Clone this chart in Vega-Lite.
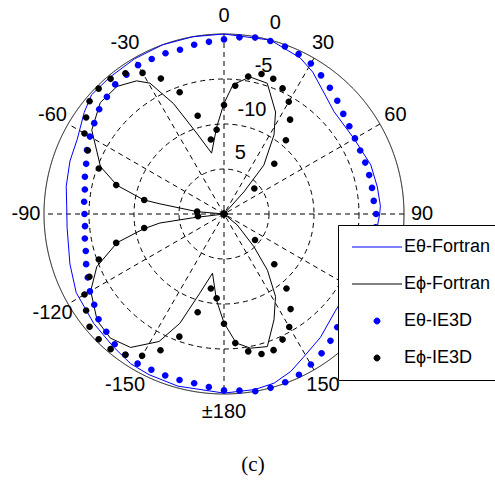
{
  "$schema": "https://vega.github.io/schema/vega-lite/v6.json",
  "width": 360,
  "height": 360,
  "autosize": {"type": "none"},
  "padding": {"left": 44, "top": 34, "right": 91, "bottom": 90},
  "background": "white",
  "config": {"view": {"stroke": null}, "text": {"font": "Liberation Sans"}},
  "title": {"text": "(c)", "orient": "bottom", "frame": "group", "offset": 32, "dx": 29, "font": "Liberation Serif", "fontSize": 21, "fontWeight": "normal", "color": "black"},
  "datasets": {
    "spokes": [{"a": 0}, {"a": 30}, {"a": 60}, {"a": 90}, {"a": 120}, {"a": 150}],
    "rings": [{"ring": 5, "kind": "grid"}, {"ring": 10, "kind": "grid"}, {"ring": 15, "kind": "grid"}, {"ring": 20, "kind": "outer"}],
    "alabels": [
      {"a": 0, "label": "0"}, {"a": 30, "label": "30"}, {"a": 60, "label": "60"}, {"a": 90, "label": "90"},
      {"a": 120, "label": "120"}, {"a": 150, "label": "150"}, {"a": 180, "label": "±180"}, {"a": -150, "label": "-150"},
      {"a": -120, "label": "-120"}, {"a": -90, "label": "-90"}, {"a": -60, "label": "-60"}, {"a": -30, "label": "-30"}
    ],
    "rlabels": [{"ring": 5, "label": "5"}, {"ring": 10, "label": "-10"}, {"ring": 15, "label": "-5"}, {"ring": 20, "label": "0"}],
    "fortran": [
      {"s": "Eθ-Fortran", "a": -180, "db": -0.1}, {"s": "Eθ-Fortran", "a": -165, "db": -0.2}, {"s": "Eθ-Fortran", "a": -155, "db": -0.3},
      {"s": "Eθ-Fortran", "a": -148, "db": -0.4}, {"s": "Eθ-Fortran", "a": -140, "db": -0.8}, {"s": "Eθ-Fortran", "a": -130, "db": -1.1},
      {"s": "Eθ-Fortran", "a": -118, "db": -1.4}, {"s": "Eθ-Fortran", "a": -108, "db": -2.0}, {"s": "Eθ-Fortran", "a": -95, "db": -2.5},
      {"s": "Eθ-Fortran", "a": -87, "db": -2.5}, {"s": "Eθ-Fortran", "a": -80, "db": -2.2}, {"s": "Eθ-Fortran", "a": -71, "db": -1.9},
      {"s": "Eθ-Fortran", "a": -63, "db": -1.7}, {"s": "Eθ-Fortran", "a": -54, "db": -0.8}, {"s": "Eθ-Fortran", "a": -48, "db": -0.2},
      {"s": "Eθ-Fortran", "a": -40, "db": -0.2}, {"s": "Eθ-Fortran", "a": -30, "db": -0.1}, {"s": "Eθ-Fortran", "a": -20, "db": 0},
      {"s": "Eθ-Fortran", "a": -10, "db": 0}, {"s": "Eθ-Fortran", "a": 0, "db": 0}, {"s": "Eθ-Fortran", "a": 15, "db": 0},
      {"s": "Eθ-Fortran", "a": 26, "db": -0.7}, {"s": "Eθ-Fortran", "a": 32, "db": -1.4}, {"s": "Eθ-Fortran", "a": 40, "db": -2.6},
      {"s": "Eθ-Fortran", "a": 47, "db": -3.3}, {"s": "Eθ-Fortran", "a": 60, "db": -3.3}, {"s": "Eθ-Fortran", "a": 71.5, "db": -2.8},
      {"s": "Eθ-Fortran", "a": 80, "db": -2.7}, {"s": "Eθ-Fortran", "a": 87, "db": -2.6}, {"s": "Eθ-Fortran", "a": 90, "db": -2.7},
      {"s": "Eθ-Fortran", "a": 100, "db": -3.0}, {"s": "Eθ-Fortran", "a": 110, "db": -3.4}, {"s": "Eθ-Fortran", "a": 120, "db": -3.8},
      {"s": "Eθ-Fortran", "a": 131, "db": -3.6}, {"s": "Eθ-Fortran", "a": 142, "db": -2.6}, {"s": "Eθ-Fortran", "a": 151, "db": -1.8},
      {"s": "Eθ-Fortran", "a": 157, "db": -1.0}, {"s": "Eθ-Fortran", "a": 163.5, "db": -0.4}, {"s": "Eθ-Fortran", "a": 170, "db": -0.2},
      {"s": "Eθ-Fortran", "a": 180, "db": -0.1},
      {"s": "Eϕ-Fortran", "a": -180, "db": -7.9}, {"s": "Eϕ-Fortran", "a": -175, "db": -10.4}, {"s": "Eϕ-Fortran", "a": -169, "db": -13.3},
      {"s": "Eϕ-Fortran", "a": -163, "db": -10.8}, {"s": "Eϕ-Fortran", "a": -158, "db": -6.9}, {"s": "Eϕ-Fortran", "a": -153, "db": -4.1},
      {"s": "Eϕ-Fortran", "a": -145, "db": -1.9}, {"s": "Eϕ-Fortran", "a": -137.5, "db": -1.3}, {"s": "Eϕ-Fortran", "a": -130, "db": -1.6},
      {"s": "Eϕ-Fortran", "a": -120, "db": -2.9}, {"s": "Eϕ-Fortran", "a": -112.5, "db": -4.7}, {"s": "Eϕ-Fortran", "a": -105, "db": -7.7},
      {"s": "Eϕ-Fortran", "a": -100.5, "db": -10.9}, {"s": "Eϕ-Fortran", "a": -98, "db": -12.8}, {"s": "Eϕ-Fortran", "a": -97, "db": -16.5},
      {"s": "Eϕ-Fortran", "a": -96, "db": -20}, {"s": "Eϕ-Fortran", "a": -86, "db": -20}, {"s": "Eϕ-Fortran", "a": -85, "db": -17},
      {"s": "Eϕ-Fortran", "a": -81, "db": -12.8}, {"s": "Eϕ-Fortran", "a": -80, "db": -10.9}, {"s": "Eϕ-Fortran", "a": -75, "db": -7.7},
      {"s": "Eϕ-Fortran", "a": -69, "db": -5.3}, {"s": "Eϕ-Fortran", "a": -57.6, "db": -2.6}, {"s": "Eϕ-Fortran", "a": -48, "db": -1.5},
      {"s": "Eϕ-Fortran", "a": -40, "db": -1.5}, {"s": "Eϕ-Fortran", "a": -33.3, "db": -2.3}, {"s": "Eϕ-Fortran", "a": -29.5, "db": -3.3},
      {"s": "Eϕ-Fortran", "a": -24.6, "db": -6.5}, {"s": "Eϕ-Fortran", "a": -18.7, "db": -10.5}, {"s": "Eϕ-Fortran", "a": -11.5, "db": -13.1},
      {"s": "Eϕ-Fortran", "a": -4.8, "db": -10.3}, {"s": "Eϕ-Fortran", "a": 0, "db": -7.7}, {"s": "Eϕ-Fortran", "a": 4, "db": -5.6},
      {"s": "Eϕ-Fortran", "a": 10.7, "db": -4.5}, {"s": "Eϕ-Fortran", "a": 18.3, "db": -4.7}, {"s": "Eϕ-Fortran", "a": 26.8, "db": -7.3},
      {"s": "Eϕ-Fortran", "a": 32.3, "db": -9.6}, {"s": "Eϕ-Fortran", "a": 39.2, "db": -13.0}, {"s": "Eϕ-Fortran", "a": 42, "db": -16.7},
      {"s": "Eϕ-Fortran", "a": 44, "db": -20}, {"s": "Eϕ-Fortran", "a": 127, "db": -20}, {"s": "Eϕ-Fortran", "a": 129.6, "db": -18.1},
      {"s": "Eϕ-Fortran", "a": 137.5, "db": -15.1}, {"s": "Eϕ-Fortran", "a": 142.3, "db": -12.1}, {"s": "Eϕ-Fortran", "a": 148, "db": -9.2},
      {"s": "Eϕ-Fortran", "a": 154.7, "db": -7.0}, {"s": "Eϕ-Fortran", "a": 161.9, "db": -4.5}, {"s": "Eϕ-Fortran", "a": 168.8, "db": -4.8},
      {"s": "Eϕ-Fortran", "a": 174.6, "db": -5.6}, {"s": "Eϕ-Fortran", "a": 180, "db": -7.9}
    ],
    "ie3d": [
      {"s": "Eθ-IE3D", "a": -175, "db": -0.7}, {"s": "Eθ-IE3D", "a": -170, "db": -0.9}, {"s": "Eθ-IE3D", "a": -165, "db": -0.9},
      {"s": "Eθ-IE3D", "a": -160, "db": -0.9}, {"s": "Eθ-IE3D", "a": -155, "db": -0.9}, {"s": "Eθ-IE3D", "a": -150, "db": -0.8},
      {"s": "Eθ-IE3D", "a": -145, "db": -0.9}, {"s": "Eθ-IE3D", "a": -140, "db": -1.1}, {"s": "Eθ-IE3D", "a": -135, "db": -1.5},
      {"s": "Eθ-IE3D", "a": -130, "db": -1.8}, {"s": "Eθ-IE3D", "a": -125, "db": -2.4}, {"s": "Eθ-IE3D", "a": -120, "db": -2.8},
      {"s": "Eθ-IE3D", "a": -115, "db": -3.3}, {"s": "Eθ-IE3D", "a": -110, "db": -3.7}, {"s": "Eθ-IE3D", "a": -105, "db": -4.1},
      {"s": "Eθ-IE3D", "a": -100, "db": -4.3}, {"s": "Eθ-IE3D", "a": -95, "db": -4.5}, {"s": "Eθ-IE3D", "a": -90, "db": -4.5},
      {"s": "Eθ-IE3D", "a": -85, "db": -4.4}, {"s": "Eθ-IE3D", "a": -80, "db": -4.3}, {"s": "Eθ-IE3D", "a": -75, "db": -4.0},
      {"s": "Eθ-IE3D", "a": -70, "db": -3.7}, {"s": "Eθ-IE3D", "a": -65, "db": -3.2}, {"s": "Eθ-IE3D", "a": -60, "db": -2.8},
      {"s": "Eθ-IE3D", "a": -55, "db": -2.4}, {"s": "Eθ-IE3D", "a": -50, "db": -1.9}, {"s": "Eθ-IE3D", "a": -45, "db": -1.6},
      {"s": "Eθ-IE3D", "a": -40, "db": -1.2}, {"s": "Eθ-IE3D", "a": -35, "db": -1.1}, {"s": "Eθ-IE3D", "a": -30, "db": -0.9},
      {"s": "Eθ-IE3D", "a": -25, "db": -1.0}, {"s": "Eθ-IE3D", "a": -20, "db": -1.0}, {"s": "Eθ-IE3D", "a": -15, "db": -1.1},
      {"s": "Eθ-IE3D", "a": -10, "db": -0.9}, {"s": "Eθ-IE3D", "a": -5, "db": -0.8}, {"s": "Eθ-IE3D", "a": 0, "db": -0.6},
      {"s": "Eθ-IE3D", "a": 5, "db": -0.3}, {"s": "Eθ-IE3D", "a": 10, "db": -0.1}, {"s": "Eθ-IE3D", "a": 15, "db": -0.1},
      {"s": "Eθ-IE3D", "a": 20, "db": -0.2}, {"s": "Eθ-IE3D", "a": 25, "db": -0.4}, {"s": "Eθ-IE3D", "a": 30, "db": -0.7},
      {"s": "Eθ-IE3D", "a": 35, "db": -1.2}, {"s": "Eθ-IE3D", "a": 40, "db": -1.7}, {"s": "Eθ-IE3D", "a": 45, "db": -2.2},
      {"s": "Eθ-IE3D", "a": 50, "db": -2.7}, {"s": "Eθ-IE3D", "a": 55, "db": -3.0}, {"s": "Eθ-IE3D", "a": 60, "db": -3.2},
      {"s": "Eθ-IE3D", "a": 65, "db": -3.3}, {"s": "Eθ-IE3D", "a": 70, "db": -3.3}, {"s": "Eθ-IE3D", "a": 75, "db": -3.3},
      {"s": "Eθ-IE3D", "a": 80, "db": -3.3}, {"s": "Eθ-IE3D", "a": 85, "db": -3.3}, {"s": "Eθ-IE3D", "a": 90, "db": -3.1},
      {"s": "Eθ-IE3D", "a": 95, "db": -3.1}, {"s": "Eθ-IE3D", "a": 100, "db": -3.0}, {"s": "Eθ-IE3D", "a": 105, "db": -3.0},
      {"s": "Eθ-IE3D", "a": 110, "db": -3.0}, {"s": "Eθ-IE3D", "a": 115, "db": -2.9}, {"s": "Eθ-IE3D", "a": 120, "db": -2.8},
      {"s": "Eθ-IE3D", "a": 125, "db": -2.7}, {"s": "Eθ-IE3D", "a": 130, "db": -2.4}, {"s": "Eθ-IE3D", "a": 135, "db": -2.2},
      {"s": "Eθ-IE3D", "a": 140, "db": -1.6}, {"s": "Eθ-IE3D", "a": 145, "db": -1.1}, {"s": "Eθ-IE3D", "a": 150, "db": -0.7},
      {"s": "Eθ-IE3D", "a": 155, "db": -0.3}, {"s": "Eθ-IE3D", "a": 160, "db": -0.1}, {"s": "Eθ-IE3D", "a": 165, "db": 0.0},
      {"s": "Eθ-IE3D", "a": 170, "db": 0.0}, {"s": "Eθ-IE3D", "a": 175, "db": -0.3}, {"s": "Eθ-IE3D", "a": 180, "db": -0.4},
      {"s": "Eϕ-IE3D", "a": -175, "db": -10.6}, {"s": "Eϕ-IE3D", "a": -170, "db": -11.6}, {"s": "Eϕ-IE3D", "a": -165, "db": -8.7},
      {"s": "Eϕ-IE3D", "a": -160, "db": -5.5}, {"s": "Eϕ-IE3D", "a": -155, "db": -3.3}, {"s": "Eϕ-IE3D", "a": -150, "db": -1.8},
      {"s": "Eϕ-IE3D", "a": -145, "db": -0.9}, {"s": "Eϕ-IE3D", "a": -140, "db": -0.4}, {"s": "Eϕ-IE3D", "a": -135, "db": -0.3},
      {"s": "Eϕ-IE3D", "a": -130, "db": -0.5}, {"s": "Eϕ-IE3D", "a": -125, "db": -1.3}, {"s": "Eϕ-IE3D", "a": -120, "db": -2.1},
      {"s": "Eϕ-IE3D", "a": -115, "db": -3.5}, {"s": "Eϕ-IE3D", "a": -110, "db": -5.2}, {"s": "Eϕ-IE3D", "a": -105, "db": -7.6},
      {"s": "Eϕ-IE3D", "a": -100, "db": -11.0}, {"s": "Eϕ-IE3D", "a": -95, "db": -17.1}, {"s": "Eϕ-IE3D", "a": -90, "db": -20},
      {"s": "Eϕ-IE3D", "a": -85, "db": -17.0}, {"s": "Eϕ-IE3D", "a": -80, "db": -11.0}, {"s": "Eϕ-IE3D", "a": -75, "db": -7.6},
      {"s": "Eϕ-IE3D", "a": -70, "db": -5.2}, {"s": "Eϕ-IE3D", "a": -65, "db": -3.3}, {"s": "Eϕ-IE3D", "a": -60, "db": -2.1},
      {"s": "Eϕ-IE3D", "a": -55, "db": -1.3}, {"s": "Eϕ-IE3D", "a": -50, "db": -0.5}, {"s": "Eϕ-IE3D", "a": -45, "db": -0.3},
      {"s": "Eϕ-IE3D", "a": -40, "db": -0.4}, {"s": "Eϕ-IE3D", "a": -35, "db": -0.9}, {"s": "Eϕ-IE3D", "a": -30, "db": -1.9},
      {"s": "Eϕ-IE3D", "a": -25, "db": -3.4}, {"s": "Eϕ-IE3D", "a": -20, "db": -5.6}, {"s": "Eϕ-IE3D", "a": -15, "db": -8.7},
      {"s": "Eϕ-IE3D", "a": -10, "db": -11.6}, {"s": "Eϕ-IE3D", "a": -5, "db": -10.6}, {"s": "Eϕ-IE3D", "a": 0, "db": -7.9},
      {"s": "Eϕ-IE3D", "a": 5, "db": -5.7}, {"s": "Eϕ-IE3D", "a": 10, "db": -4.5}, {"s": "Eϕ-IE3D", "a": 15, "db": -3.9},
      {"s": "Eϕ-IE3D", "a": 20, "db": -4.0}, {"s": "Eϕ-IE3D", "a": 25, "db": -4.6}, {"s": "Eϕ-IE3D", "a": 30, "db": -5.6},
      {"s": "Eϕ-IE3D", "a": 35, "db": -7.2}, {"s": "Eϕ-IE3D", "a": 40, "db": -9.3}, {"s": "Eϕ-IE3D", "a": 45, "db": -12.1},
      {"s": "Eϕ-IE3D", "a": 50, "db": -15.6}, {"s": "Eϕ-IE3D", "a": 55, "db": -20}, {"s": "Eϕ-IE3D", "a": 60, "db": -20},
      {"s": "Eϕ-IE3D", "a": 65, "db": -20}, {"s": "Eϕ-IE3D", "a": 70, "db": -20}, {"s": "Eϕ-IE3D", "a": 75, "db": -20},
      {"s": "Eϕ-IE3D", "a": 80, "db": -20}, {"s": "Eϕ-IE3D", "a": 85, "db": -20}, {"s": "Eϕ-IE3D", "a": 90, "db": -20},
      {"s": "Eϕ-IE3D", "a": 95, "db": -20}, {"s": "Eϕ-IE3D", "a": 100, "db": -20}, {"s": "Eϕ-IE3D", "a": 105, "db": -20},
      {"s": "Eϕ-IE3D", "a": 110, "db": -20}, {"s": "Eϕ-IE3D", "a": 115, "db": -20}, {"s": "Eϕ-IE3D", "a": 120, "db": -20},
      {"s": "Eϕ-IE3D", "a": 125, "db": -20}, {"s": "Eϕ-IE3D", "a": 130, "db": -15.5}, {"s": "Eϕ-IE3D", "a": 135, "db": -12.1},
      {"s": "Eϕ-IE3D", "a": 140, "db": -9.2}, {"s": "Eϕ-IE3D", "a": 145, "db": -7.1}, {"s": "Eϕ-IE3D", "a": 150, "db": -5.5},
      {"s": "Eϕ-IE3D", "a": 155, "db": -4.6}, {"s": "Eϕ-IE3D", "a": 160, "db": -3.9}, {"s": "Eϕ-IE3D", "a": 165, "db": -3.9},
      {"s": "Eϕ-IE3D", "a": 170, "db": -4.5}, {"s": "Eϕ-IE3D", "a": 175, "db": -5.6}, {"s": "Eϕ-IE3D", "a": 180, "db": -7.8}
    ]
  },
  "layer": [
    {
      "data": {"name": "spokes"},
      "transform": [
        {"calculate": "20*sin(datum.a*PI/180)", "as": "x"},
        {"calculate": "20*cos(datum.a*PI/180)", "as": "y"},
        {"calculate": "-datum.x", "as": "x2"},
        {"calculate": "-datum.y", "as": "y2"}
      ],
      "mark": {"type": "rule", "color": "black", "strokeWidth": 1, "strokeDash": [5, 4]},
      "encoding": {
        "x": {"field": "x", "type": "quantitative", "scale": {"domain": [-20, 20], "nice": false, "zero": false}, "axis": null},
        "y": {"field": "y", "type": "quantitative", "scale": {"domain": [-20, 20], "nice": false, "zero": false}, "axis": null},
        "x2": {"field": "x2"},
        "y2": {"field": "y2"}
      }
    },
    {
      "data": {"name": "rings"},
      "mark": {"type": "point", "shape": "circle", "filled": false, "stroke": "black", "strokeWidth": 1, "opacity": 1},
      "encoding": {
        "x": {"datum": 0, "type": "quantitative", "scale": {"domain": [-20, 20], "nice": false, "zero": false}, "axis": null},
        "y": {"datum": 0, "type": "quantitative", "scale": {"domain": [-20, 20], "nice": false, "zero": false}, "axis": null},
        "size": {"field": "ring", "type": "quantitative", "scale": {"type": "pow", "exponent": 2, "domain": [0, 20], "range": [0, 129600], "zero": true, "nice": false}, "legend": null},
        "strokeDash": {"field": "kind", "type": "nominal", "scale": {"domain": ["grid", "outer"], "range": [[5, 4], [1, 0]]}, "legend": null}
      }
    },
    {
      "data": {"name": "fortran"},
      "transform": [
        {"calculate": "max(datum.db + 20, 0)", "as": "r"},
        {"calculate": "datum.r*sin(datum.a*PI/180)", "as": "x"},
        {"calculate": "datum.r*cos(datum.a*PI/180)", "as": "y"}
      ],
      "mark": {"type": "line", "strokeWidth": 1},
      "encoding": {
        "x": {"field": "x", "type": "quantitative", "scale": {"domain": [-20, 20], "nice": false, "zero": false}, "axis": null},
        "y": {"field": "y", "type": "quantitative", "scale": {"domain": [-20, 20], "nice": false, "zero": false}, "axis": null},
        "order": {"field": "a", "type": "quantitative"},
        "color": {
          "field": "s", "type": "nominal",
          "scale": {"domain": ["Eθ-Fortran", "Eϕ-Fortran", "Eθ-IE3D", "Eϕ-IE3D"], "range": ["#0000ff", "#000000", "#0000ff", "#000000"]},
          "legend": {
            "title": null, "orient": "none", "legendX": 294, "legendY": 191,
            "fillColor": "white", "strokeColor": "black", "padding": 10,
            "symbolSize": 100, "symbolOffset": 20, "symbolStrokeWidth": 1,
            "clipHeight": 24, "rowPadding": 13,
            "labelFont": "Liberation Sans", "labelFontSize": 18, "labelColor": "black", "labelOffset": 18, "labelLimit": 0
          }
        }
      }
    },
    {
      "data": {"name": "ie3d"},
      "transform": [
        {"calculate": "max(datum.db + 20, 0)", "as": "r"},
        {"calculate": "datum.r*sin(datum.a*PI/180)", "as": "x"},
        {"calculate": "datum.r*cos(datum.a*PI/180)", "as": "y"}
      ],
      "mark": {"type": "point", "filled": true, "opacity": 1, "size": 121},
      "encoding": {
        "x": {"field": "x", "type": "quantitative", "scale": {"domain": [-20, 20], "nice": false, "zero": false}, "axis": null},
        "y": {"field": "y", "type": "quantitative", "scale": {"domain": [-20, 20], "nice": false, "zero": false}, "axis": null},
        "color": {"field": "s", "type": "nominal"},
        "shape": {
          "field": "s", "type": "nominal",
          "scale": {
            "domain": ["Eθ-Fortran", "Eϕ-Fortran", "Eθ-IE3D", "Eϕ-IE3D"],
            "range": ["M-5,0H5", "M-5,0H5", "M-0.6,0A0.6,0.6,0,1,1,0.6,0A0.6,0.6,0,1,1,-0.6,0Z", "M-0.6,0A0.6,0.6,0,1,1,0.6,0A0.6,0.6,0,1,1,-0.6,0Z"]
          },
          "legend": {"title": null}
        }
      }
    },
    {
      "data": {"name": "alabels"},
      "transform": [
        {"calculate": "22*sin(datum.a*PI/180)", "as": "x"},
        {"calculate": "22*cos(datum.a*PI/180)", "as": "y"}
      ],
      "mark": {"type": "text", "fontSize": 20, "font": "Liberation Sans", "color": "black", "align": "center", "baseline": "middle"},
      "encoding": {
        "x": {"field": "x", "type": "quantitative", "scale": {"domain": [-20, 20], "nice": false, "zero": false}, "axis": null},
        "y": {"field": "y", "type": "quantitative", "scale": {"domain": [-20, 20], "nice": false, "zero": false}, "axis": null},
        "text": {"field": "label"}
      }
    },
    {
      "data": {"name": "rlabels"},
      "transform": [
        {"calculate": "(datum.ring + 2)*sin(15*PI/180)", "as": "x"},
        {"calculate": "(datum.ring + 2)*cos(15*PI/180)", "as": "y"}
      ],
      "mark": {"type": "text", "fontSize": 20, "font": "Liberation Sans", "color": "black", "align": "center", "baseline": "middle"},
      "encoding": {
        "x": {"field": "x", "type": "quantitative", "scale": {"domain": [-20, 20], "nice": false, "zero": false}, "axis": null},
        "y": {"field": "y", "type": "quantitative", "scale": {"domain": [-20, 20], "nice": false, "zero": false}, "axis": null},
        "text": {"field": "label"}
      }
    }
  ]
}
